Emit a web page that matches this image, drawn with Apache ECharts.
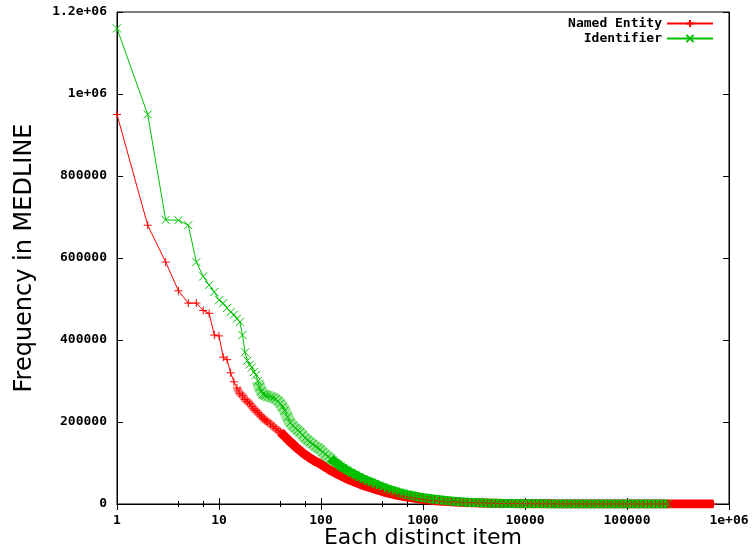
<!DOCTYPE html>
<html>
<head>
<meta charset="utf-8">
<script src="https://cdn.jsdelivr.net/npm/echarts@6/dist/echarts.min.js"></script>
<style>
  html, body { margin: 0; padding: 0; background: #fff; }
  #main { width: 754px; height: 550px; }
</style>
</head>
<body>
<div id="main"></div>
<script>
// rank of each distinct item (x axis, log scale)
var ranks = [
    1, 2, 3, 4, 5, 6, 7, 8, 9, 10,
    11, 12, 13, 14, 15, 16, 17, 18, 19, 20,
    21, 22, 23, 24, 25, 26, 27, 28, 29, 30,
    32, 34, 36, 38, 40, 42, 44, 47, 50, 53,
    56, 59, 62, 66, 70, 74, 78, 83, 88, 93,
    98, 104, 110, 117, 124, 131, 139, 147, 156, 165,
    181, 198, 217, 237, 260, 284, 311, 340, 372, 407,
    446, 488, 534, 584, 639, 700, 766, 838, 917, 1000,
    1100, 1200, 1300, 1450, 1600, 1750, 1900, 2100, 2300, 2500,
    2750, 3000, 3300, 3600, 3950, 4300, 4700, 5150, 5650, 6200,
    6800, 7400, 8100, 8900, 9700, 10600, 11600, 12700, 13900, 15200,
    16700, 18200, 20000, 21900, 24000, 26200, 28700, 31400, 34400, 37600,
    41200, 45000, 49300, 54000, 59000, 64600, 70700, 77400, 84700, 92700,
    101000, 111000, 121000, 133000, 145000, 159000, 174000, 190000, 208000, 228000,
    250000,
    273000, 299000, 327000, 358000, 392000, 429000, 469000, 513000, 562000, 615000, 673000, 700000
];

// Named Entity frequency (same order as ranks)
var namedEntity = [
    950000, 680000, 590000, 520000, 490000, 490000, 472000, 465000, 412000, 410000,
    358000, 352000, 320000, 298000, 283000, 270000, 264000, 255000, 250000, 245000,
    238000, 232000, 228000, 223000, 218000, 214000, 209000, 206000, 203000, 200000,
    195000, 189000, 184000, 179000, 175000, 170000, 165000, 158000, 151000, 146000,
    140000, 135000, 131000, 125000, 120000, 116000, 112000, 108000, 104000, 101000,
    98000, 94000, 90000, 86000, 82000, 79000, 75000, 72000, 69000, 66000,
    61000, 57000, 53000, 49000, 45000, 42000, 39000, 36000, 33000, 30000,
    27000, 25000, 22500, 20500, 18500, 17000, 15500, 14000, 12500, 11000,
    10000, 9000, 8200, 7400, 6600, 6000, 5400, 4800, 4300, 3900,
    3500, 3100, 2800, 2500, 2200, 2000, 1800, 1600, 1400, 1250,
    1100, 1000, 900, 800, 720, 640, 570, 510, 450, 400,
    350, 310, 270, 240, 210, 185, 160, 140, 120, 105,
    90, 78, 67, 58, 50, 43, 37, 32, 27, 23,
    20, 17, 14, 12, 10, 9, 8, 7, 6, 5,
    4,
    4, 3, 3, 3, 2, 2, 2, 2, 1, 1, 1, 1
];

// Identifier frequency (same order as ranks, ends at rank 250000)
var identifier = [
    1160000, 950000, 693000, 692000, 680000, 590000, 555000, 534000, 517000, 497000,
    490000, 478000, 468000, 462000, 452000, 444000, 412000, 370000, 350000, 340000,
    333000, 322000, 315000, 300000, 285000, 275000, 268000, 266000, 265000, 262000,
    261000, 259000, 256000, 251000, 245000, 237000, 228000, 212000, 198000, 191000,
    185000, 180000, 175000, 168000, 161000, 156000, 151000, 146000, 141000, 137000,
    133000, 127000, 121000, 116000, 111000, 106000, 101000, 97000, 92000, 88000,
    82000, 76000, 71000, 66000, 61000, 57000, 53000, 49000, 45000, 41000,
    37000, 34000, 31000, 28000, 25500, 23000, 21000, 19000, 17000, 15500,
    14000, 12700, 11500, 10200, 9000, 8000, 7200, 6300, 5600, 5000,
    4400, 3900, 3400, 3000, 2600, 2300, 2000, 1800, 1550, 1350,
    1200, 1050, 920, 800, 700, 610, 530, 460, 400, 350,
    300, 260, 225, 195, 170, 145, 125, 108, 93, 80,
    68, 58, 50, 43, 37, 32, 27, 23, 20, 17,
    14, 12, 10, 8, 7, 6, 5, 4, 3, 2,
    1
];

// rank ranges where the markers overlap: [from, to] for a light mesh, then solid from a rank on
var namedEntityMesh = [15, 42];
var namedEntitySolidFrom = 40;
var identifierMesh = [24, 131];
var identifierSolidFrom = 124;

var xTickLabels = ['1', '10', '100', '1000', '10000', '100000', '1e+06'];
var yTickLabels = ['0', '200000', '400000', '600000', '800000', '1e+06', '1.2e+06'];

var myChart = echarts.init(document.getElementById('main'));

// [rank, freq] pairs within a rank range
function toPairs(vals, fromRank, toRank) {
    var out = [];
    for (var i = 0; i < vals.length; i++) {
        if (fromRank && ranks[i] < fromRank) continue;
        if (toRank && ranks[i] > toRank) continue;
        out.push([ranks[i], vals[i]]);
    }
    return out;
}

function band(name, data, color, width) {
    return {
        name: name,
        type: 'line',
        data: data,
        showSymbol: false,
        lineStyle: { color: color, width: width, cap: 'butt', join: 'round' },
        itemStyle: { color: color },
        silent: true
    };
}

var monoFont = {
    fontFamily: 'DejaVu Sans Mono',
    fontWeight: 'bold',
    fontSize: 13,
    color: '#000'
};

var plusSymbol = 'path://M0,5L10,5M5,0L5,10';
var crossSymbol = 'path://M0,0L10,10M10,0L0,10';

var legendBase = {
    right: 40,
    padding: 0,
    align: 'right',
    itemWidth: 46,
    itemHeight: 9,
    textStyle: monoFont
};

var option = {
    animation: false,
    backgroundColor: '#fff',
    grid: {
        left: 117,
        right: 25,
        top: 12,
        bottom: 46,
        outerBoundsMode: 'none',
        show: true,
        borderColor: '#000',
        borderWidth: 1
    },
    legend: [
        Object.assign({ data: ['Named Entity'], top: 17 }, legendBase),
        Object.assign({ data: ['Identifier'], top: 32 }, legendBase)
    ],
    xAxis: [
        {
            type: 'log',
            logBase: 10,
            min: 1,
            max: 1000000,
            splitNumber: 6,
            name: 'Each distinct item',
            nameLocation: 'middle',
            nameGap: 23,
            nameMoveOverlap: false,
            nameTextStyle: { fontFamily: 'DejaVu Sans', fontSize: 22, color: '#000' },
            axisLine: { onZero: false, lineStyle: { color: '#000', width: 1 } },
            axisTick: { inside: true, length: 6, lineStyle: { color: '#000' } },
            minorTick: { show: true, splitNumber: 3, length: 3, lineStyle: { color: '#000' } },
            splitLine: { show: false },
            axisLabel: Object.assign({
                margin: 10,
                formatter: function (v) {
                    return xTickLabels[Math.round(Math.log10(v))];
                }
            }, monoFont)
        },
        {
            type: 'log',
            logBase: 10,
            min: 1,
            max: 1000000,
            splitNumber: 6,
            position: 'top',
            axisLine: { lineStyle: { color: '#000', width: 1 } },
            axisTick: { inside: true, length: 6, lineStyle: { color: '#000' } },
            minorTick: { show: true, splitNumber: 3, length: 3, lineStyle: { color: '#000' } },
            splitLine: { show: false },
            axisLabel: { show: false }
        }
    ],
    yAxis: [
        {
            type: 'value',
            min: 0,
            max: 1200000,
            interval: 200000,
            name: 'Frequency in MEDLINE',
            nameLocation: 'middle',
            nameGap: 80,
            nameMoveOverlap: false,
            nameTextStyle: { fontFamily: 'DejaVu Sans', fontSize: 24, color: '#000' },
            axisLine: { show: true, onZero: false, lineStyle: { color: '#000', width: 1 } },
            axisTick: { show: true, inside: true, length: 6, lineStyle: { color: '#000' } },
            splitLine: { show: false },
            axisLabel: Object.assign({
                margin: 10,
                formatter: function (v) {
                    return yTickLabels[Math.round(v / 200000)];
                }
            }, monoFont)
        },
        {
            type: 'value',
            min: 0,
            max: 1200000,
            interval: 200000,
            position: 'right',
            axisLine: { show: true, lineStyle: { color: '#000', width: 1 } },
            axisTick: { show: true, inside: true, length: 6, lineStyle: { color: '#000' } },
            splitLine: { show: false },
            axisLabel: { show: false }
        }
    ],
    series: [
        band('Named Entity mesh', toPairs(namedEntity, namedEntityMesh[0], namedEntityMesh[1]), 'rgba(255,0,0,0.5)', 8),
        band('Named Entity band', toPairs(namedEntity, namedEntitySolidFrom), '#ff0000', 9),
        {
            name: 'Named Entity',
            type: 'line',
            data: toPairs(namedEntity),
            symbol: plusSymbol,
            symbolSize: 8,
            lineStyle: { color: '#ff0000', width: 1 },
            itemStyle: { color: '#ff0000', borderColor: '#ff0000', borderWidth: 1 },
            emphasis: { disabled: true }
        },
        band('Identifier mesh', toPairs(identifier, identifierMesh[0], identifierMesh[1]), 'rgba(0,192,0,0.4)', 12),
        band('Identifier band', toPairs(identifier, identifierSolidFrom), '#00c000', 9),
        {
            name: 'Identifier',
            type: 'line',
            data: toPairs(identifier),
            symbol: crossSymbol,
            symbolSize: 8,
            lineStyle: { color: '#00c000', width: 1 },
            itemStyle: { color: '#00c000', borderColor: '#00c000', borderWidth: 1 },
            emphasis: { disabled: true }
        }
    ]
};

myChart.setOption(option);
</script>
</body>
</html>
